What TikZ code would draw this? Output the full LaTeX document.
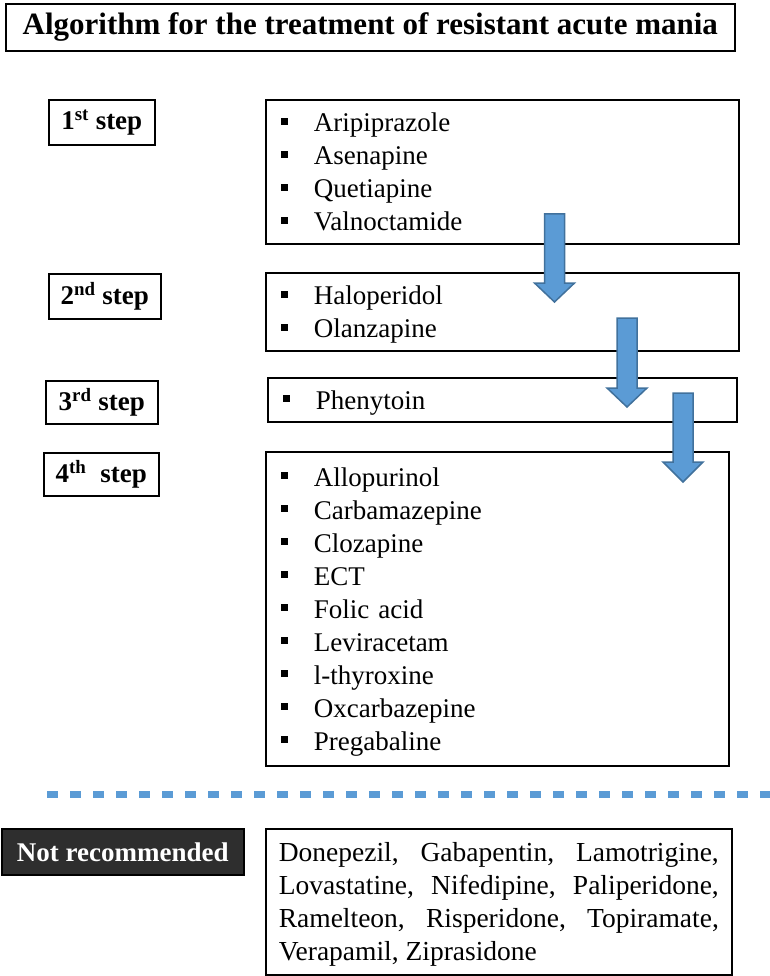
\documentclass[tikz,border=0pt]{standalone}
\usepackage{fontspec}
\setmainfont{Liberation Serif}
\definecolor{arrowblue}{HTML}{5B9BD5}
\definecolor{arrowedge}{HTML}{41719C}
\definecolor{darkbox}{HTML}{2E2E2E}
\newcommand\linestrut{\rule[-7pt]{0pt}{33pt}}
\newcommand\drug[1]{\linestrut\makebox[33pt][l]{\rule[7pt]{7pt}{7pt}}#1}

\begin{document}
\begin{tikzpicture}[x=1pt,y=-1pt,
  box/.style={draw,line width=1.6pt,anchor=north west,inner ysep=0pt,
    font=\fontsize{27}{33}\selectfont},
  listbox/.style={box,inner xsep=15pt,align=left},
  steplabel/.style={box,inner sep=0pt,font=\fontsize{27}{33}\selectfont\bfseries},
  blockarrow/.style={draw=arrowedge,fill=arrowblue,line width=1.5pt,line join=miter}]
  \useasboundingbox (0,0) rectangle (770,976);

  \node[box,minimum width=729pt,minimum height=47pt,
    font=\fontsize{31}{37}\selectfont\bfseries] (title) at (5,3)
    {Algorithm for the treatment of resistant acute mania};

  % steps
  \node[steplabel,minimum width=106pt,minimum height=45pt] (step1) at (48,99)
    {1\textsuperscript{st} step};
  \node[steplabel,minimum width=112pt,minimum height=45pt] (step2) at (48,273)
    {2\textsuperscript{nd} step};
  \node[steplabel,minimum width=112pt,minimum height=43pt] (step3) at (45,380)
    {3\textsuperscript{rd} step};
  \node[steplabel,minimum width=115pt,minimum height=43pt] (step4) at (43,452)
    {4\textsuperscript{th}\hspace{14pt}step};

  \node[listbox,text width=443pt,minimum height=144pt] (list1) at (265,99)
    {\drug{Aripiprazole}\\ \drug{Asenapine}\\ \drug{Quetiapine}\\ \drug{Valnoctamide}};
  \node[listbox,text width=443pt,minimum height=78pt] (list2) at (265,272)
    {\drug{Haloperidol}\\ \drug{Olanzapine}};
  \node[listbox,text width=439pt,minimum height=44pt] (list3) at (267,377)
    {\drug{Phenytoin}};
  \node[listbox,text width=433pt,minimum height=314pt] (list4) at (265,451)
    {\drug{Allopurinol}\\ \drug{Carbamazepine}\\ \drug{Clozapine}\\ \drug{ECT}\\
     \drug{Folic acid}\\ \drug{Leviracetam}\\ \drug{l-thyroxine}\\
     \drug{Oxcarbazepine}\\ \drug{Pregabaline}};

  % arrows between the steps
  \foreach \cx/\ty/\hy/\tip in {554.5/214/283/302, 627/318/388/407, 683/393/462/482}
    \draw[blockarrow] (\cx-10,\ty) -- (\cx+10,\ty) -- (\cx+10,\hy) -- (\cx+20,\hy)
      -- (\cx,\tip) -- (\cx-20,\hy) -- (\cx-10,\hy) -- cycle;

  \coordinate (sepL) at (47,794);
  \coordinate (sepR) at (770,794);
  \draw[arrowblue,line width=7pt,dash pattern=on 11pt off 12pt] (sepL) -- (sepR);

  \node[steplabel,minimum width=242pt,minimum height=46pt,fill=darkbox,
    text=white] (notrec) at (1,828) {Not recommended};
  \node[box,text width=440pt,inner xsep=13pt,align=justify,minimum height=146pt,
    font=\fontsize{27.5}{33}\selectfont] (banned) at (265,828)
    {\hyphenpenalty=10000\linestrut Donepezil, Gabapentin, Lamotrigine,\linebreak
     Lovastatine, Nifedipine, Paliperidone,\linebreak
     Ramelteon, Risperidone, Topiramate,\linebreak
     Verapamil, Ziprasidone\linestrut};
\end{tikzpicture}
\end{document}
